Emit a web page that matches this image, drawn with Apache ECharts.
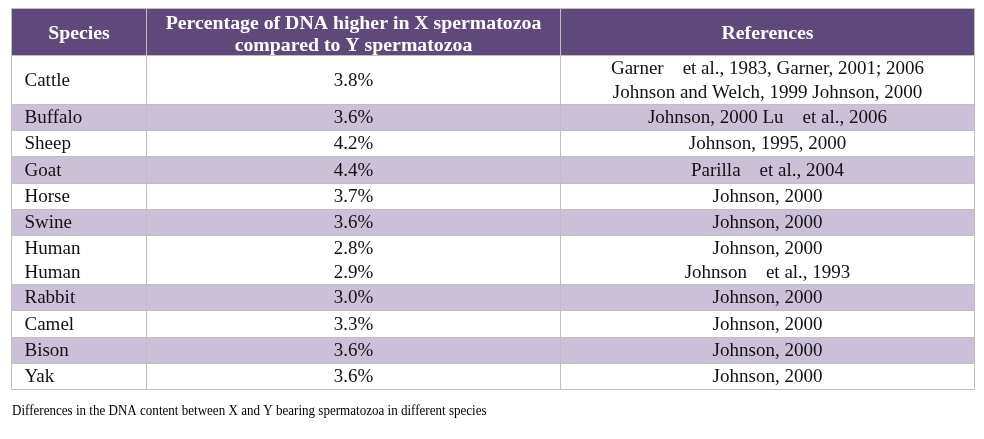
<!DOCTYPE html>
<html>
<head>
<meta charset="utf-8">
<script src="https://cdn.jsdelivr.net/npm/echarts@6/dist/echarts.min.js"></script>
<style>
  html, body { margin: 0; padding: 0; background: #fff; }
  #chart { width: 984px; height: 439px; }
</style>
</head>
<body>
<div id="chart"></div>
<script>
(function() {
  var headers = [
    ['Species'],
    ['Percentage of DNA higher in X spermatozoa', 'compared to Y spermatozoa'],
    ['References']
  ];
  var species = [
    ['Cattle'], ['Buffalo'], ['Sheep'], ['Goat'], ['Horse'], ['Swine'],
    ['Human', 'Human'], ['Rabbit'], ['Camel'], ['Bison'], ['Yak']
  ];
  var percent = [
    [3.8], [3.6], [4.2], [4.4], [3.7], [3.6],
    [2.8, 2.9], [3.0], [3.3], [3.6], [3.6]
  ];
  var references = [
    ['Garner    et al., 1983, Garner, 2001; 2006', 'Johnson and Welch, 1999 Johnson, 2000'],
    ['Johnson, 2000 Lu    et al., 2006'],
    ['Johnson, 1995, 2000'],
    ['Parilla    et al., 2004'],
    ['Johnson, 2000'],
    ['Johnson, 2000'],
    ['Johnson, 2000', 'Johnson    et al., 1993'],
    ['Johnson, 2000'],
    ['Johnson, 2000'],
    ['Johnson, 2000'],
    ['Johnson, 2000']
  ];
  var caption = 'Differences in the DNA content between X and Y bearing spermatozoa in different species';

  var headFill = '#5f497a';
  var shadeFill = '#ccc0d9';
  var border = '#bfbfbf';
  var ink = '#111';
  var font = 'Liberation Serif';

  // column widths (layout), rows sized by how many lines they hold
  var colWidth = [135, 414, 414];
  var colStart = [0, 135, 549];
  var totalW = 963;

  var rows = [headers].concat(species.map(function(s, i) {
    return [s, percent[i].map(function(v) { return v.toFixed(1) + '%'; }), references[i]];
  }));

  var rowStart = [], rowHeight = [], acc = 0;
  rows.forEach(function(r, ri) {
    var lines = Math.max(r[0].length, r[1].length, r[2].length);
    var h = 1 + (ri === 0 ? 0.79 : 0.87) * (lines - 1);
    rowStart.push(acc);
    rowHeight.push(h);
    acc += h;
  });
  var totalH = acc;

  var cells = [];
  rows.forEach(function(r, ri) {
    for (var c = 0; c < 3; c++) cells.push([c, ri]);
  });

  function crisp(v) { return Math.round(v) + 0.5; }

  function renderCell(params, api) {
    var c = api.value(0), ri = api.value(1);
    var p0 = api.coord([colStart[c], rowStart[ri]]);
    var p1 = api.coord([colStart[c] + colWidth[c], rowStart[ri] + rowHeight[ri]]);
    var x0 = crisp(p0[0]), y0 = crisp(p0[1]), x1 = crisp(p1[0]), y1 = crisp(p1[1]);
    var isHead = ri === 0;
    var fill = isHead ? headFill : (ri % 2 === 0 ? shadeFill : '#fff');
    var lines = rows[ri][c];
    var left = (c === 0 && !isHead);
    var dy = isHead ? (lines.length > 1 ? 3 : 2) : 1;
    return {
      type: 'group',
      children: [{
        type: 'rect',
        shape: { x: x0, y: y0, width: x1 - x0, height: y1 - y0 },
        style: { fill: fill, stroke: border, lineWidth: 1 }
      }, {
        type: 'text',
        x: left ? x0 + 13 : (x0 + x1) / 2,
        y: (y0 + y1) / 2 + dy,
        scaleX: isHead ? 1.07 : 1,
        style: {
          text: lines.join('\n'),
          fill: isHead ? '#fff' : ink,
          font: (isHead ? 'bold 18.5px ' : '19px ') + font,
          lineHeight: isHead ? 22 : 24,
          align: left ? 'left' : 'center',
          verticalAlign: 'middle'
        }
      }]
    };
  }

  var chart = echarts.init(document.getElementById('chart'));
  chart.setOption({
    animation: false,
    backgroundColor: '#fff',
    graphic: [{
      type: 'text',
      x: 12, y: 404,
      scaleX: 0.87,
      silent: true,
      style: { text: caption, font: '15px ' + font, fill: '#000' }
    }],
    grid: { left: 11, right: 10, top: 8, bottom: 50 },
    xAxis: { type: 'value', min: 0, max: totalW, show: false },
    yAxis: { type: 'value', min: 0, max: totalH, inverse: true, show: false },
    series: [{
      type: 'custom',
      data: cells,
      renderItem: renderCell,
      silent: true
    }]
  });
})();
</script>
</body>
</html>
